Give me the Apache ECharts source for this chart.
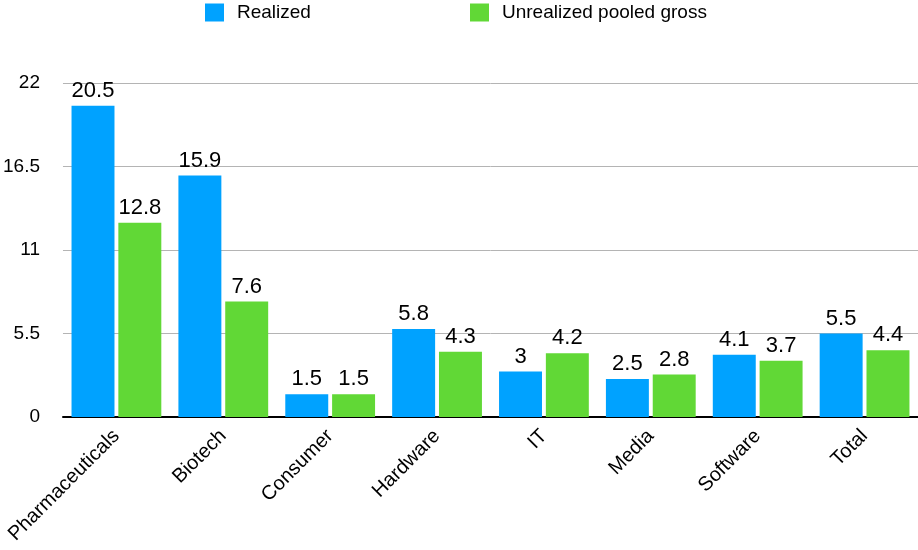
<!DOCTYPE html>
<html>
<head>
<meta charset="utf-8">
<script src="https://cdn.jsdelivr.net/npm/echarts@6/dist/echarts.min.js"></script>
<style>html,body{margin:0;padding:0;background:#fff;}#c{width:918px;height:550px;}</style>
</head>
<body>
<div id="c"></div>
<script>
const categories = ['Pharmaceuticals','Biotech','Consumer','Hardware','IT','Media','Software','Total'];
const realized = [20.5, 15.9, 1.5, 5.8, 3, 2.5, 4.1, 5.5];
const unrealized = [12.8, 7.6, 1.5, 4.3, 4.2, 2.8, 3.7, 4.4];
const seriesNames = ['Realized', 'Unrealized pooled gross'];
const yMin = 0, yMax = 22, yInterval = 5.5;

const FONT = '"Liberation Sans", Arial, Helvetica, sans-serif';
const chart = echarts.init(document.getElementById('c'), null, {renderer: 'canvas'});
const labelStyle = {show: true, position: 'top', distance: 4, color: '#000', fontSize: 22, fontFamily: FONT};
chart.setOption({
  animation: false,
  textStyle: {fontFamily: FONT},
  legend: [
    {data: [seriesNames[0]], left: 205, top: 3, padding: 0, icon: 'rect', itemWidth: 19, itemHeight: 18,
     textStyle: {fontSize: 19, color: '#000', fontFamily: FONT, padding: [2, 0, 0, 8]}},
    {data: [seriesNames[1]], left: 470, top: 3, padding: 0, icon: 'rect', itemWidth: 19, itemHeight: 18,
     textStyle: {fontSize: 19, color: '#000', fontFamily: FONT, padding: [2, 0, 0, 8]}}
  ],
  grid: {left: 62, right: 0, top: 83, bottom: 133, containLabel: false},
  xAxis: {
    type: 'category', data: categories,
    axisLine: {lineStyle: {color: '#000', width: 2}},
    axisTick: {show: false},
    axisLabel: {rotate: 45, color: '#000', fontSize: 20, fontFamily: FONT, margin: 16, interval: 0}
  },
  yAxis: {
    type: 'value', min: yMin, max: yMax, interval: yInterval,
    axisLine: {show: false}, axisTick: {show: false},
    axisLabel: {color: '#000', fontSize: 19, fontFamily: FONT, margin: 23, padding: [8, 0, 0, 0]},
    splitLine: {lineStyle: {color: '#b4b4b4', width: 1}}
  },
  series: [
    {name: seriesNames[0], type: 'bar', data: realized, itemStyle: {color: '#00A2FF'},
     barGap: '9%', barCategoryGap: '16%', label: labelStyle},
    {name: seriesNames[1], type: 'bar', data: unrealized, itemStyle: {color: '#61D836'},
     barGap: '9%', barCategoryGap: '16%', label: labelStyle}
  ]
});
</script>
</body>
</html>
